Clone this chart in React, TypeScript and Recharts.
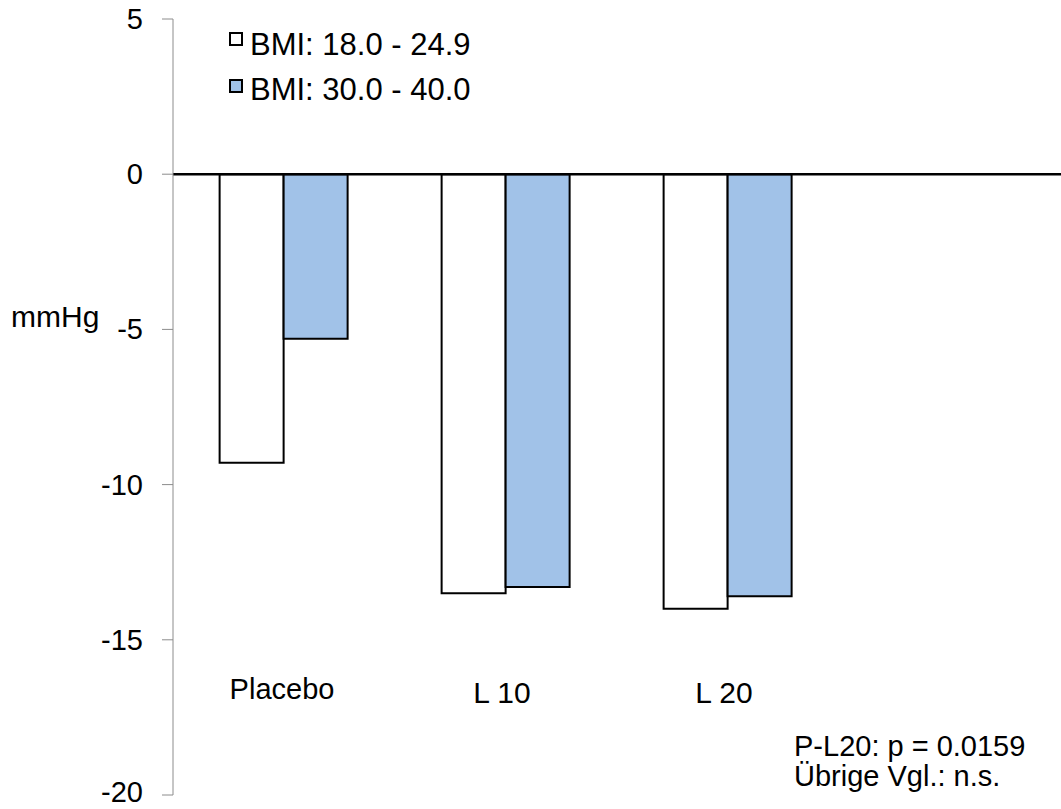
import React from 'react';
import { BarChart, Bar, XAxis, YAxis, ReferenceLine, Customized } from 'recharts';

const categories = ['Placebo', 'L 10', 'L 20', ''];
const bmiNormal = [-9.3, -13.5, -14.0, null];
const bmiObese = [-5.3, -13.3, -13.6, null];
const yTicks = [5, 0, -5, -10, -15, -20];
const seriesNames = ['BMI: 18.0 - 24.9', 'BMI: 30.0 - 40.0'];
const seriesFills = ['#ffffff', '#A1C2E8'];
const notes = ['P-L20: p = 0.0159', 'Übrige Vgl.: n.s.'];
const yLabel = 'mmHg';

const data = categories.map((c, i) => ({ name: c, normal: bmiNormal[i], obese: bmiObese[i] }));

const FONT = '"Liberation Sans", Arial, Helvetica, sans-serif';

const XTick = (props: any) => {
  const { x, y, payload } = props;
  const small = payload.value === 'Placebo';
  return (
    <text x={small ? x - 2 : x - 4} y={small ? y - 114 : y - 111} textAnchor="middle" dominantBaseline="central"
      fontFamily={FONT} fontSize={small ? 29 : 30} fill="#000">
      {payload.value}
    </text>
  );
};

const YTick = (props: any) => {
  const { x, y, payload } = props;
  const last = payload.value === yTicks[yTicks.length - 1];
  return (
    <text x={x} y={last ? y - 3 : y} textAnchor="end" dominantBaseline="central"
      fontFamily={FONT} fontSize={29} fill="#000">
      {payload.value}
    </text>
  );
};

const Extras = () => (
  <g>
    {seriesNames.map((n, i) => (
      <g key={n}>
        <rect x={230} y={33 + i * 47} width={12} height={12} fill={seriesFills[i]} stroke="#000" strokeWidth={2} />
        <text x={250} y={44 + i * 45} dominantBaseline="central" fontFamily={FONT} fontSize={31} fill="#000">{n}</text>
      </g>
    ))}
    {notes.map((n, i) => (
      <text key={n} x={794} y={746 + i * 30} dominantBaseline="central" fontFamily={FONT} fontSize={29} fill="#000">{n}</text>
    ))}
    <text x={11} y={316} dominantBaseline="central" fontFamily={FONT} fontSize={30} fill="#000">{yLabel}</text>
  </g>
);

export default function App() {
  return (
    <div style={{ position: 'absolute', left: 0, top: 0, background: '#fff' }}>
      <BarChart width={1061} height={809} data={data}
        margin={{ top: 19, right: 0, bottom: 13, left: 0 }}
        barCategoryGap="21%" barGap={0}>
        <YAxis domain={[-20, 5]} ticks={yTicks} width={173} interval={0}
          axisLine={{ stroke: '#8c8c8c', strokeWidth: 1 }}
          tickLine={{ stroke: '#8c8c8c', strokeWidth: 1 }} tickSize={11} tickMargin={19}
          tick={<YTick />} />
        <XAxis dataKey="name" height={1} axisLine={false} tickLine={false} interval={0} tick={<XTick />} />
        <Bar dataKey="normal" name={seriesNames[0]} fill={seriesFills[0]} stroke="#000" strokeWidth={2} isAnimationActive={false} />
        <Bar dataKey="obese" name={seriesNames[1]} fill={seriesFills[1]} stroke="#000" strokeWidth={2} isAnimationActive={false} />
        <ReferenceLine y={0} stroke="#000" strokeWidth={2.5} />
        <Customized component={Extras} />
      </BarChart>
    </div>
  );
}
